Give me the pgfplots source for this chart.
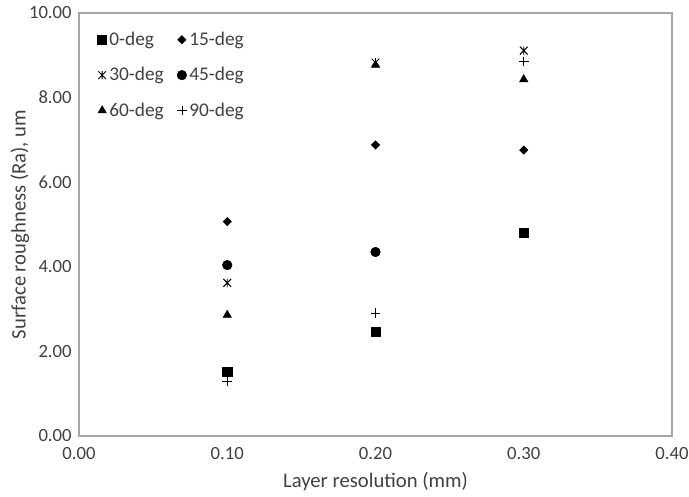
\documentclass[border=0pt]{standalone}
\usepackage{fontspec}
\setmainfont{Carlito}
\usepackage{pgfplots}
\pgfplotsset{compat=1.18}
\definecolor{txt}{HTML}{404040}
\definecolor{frame}{HTML}{A6A6A6}

% X with a vertical bar, like the Excel star marker
\pgfdeclareplotmark{xstar}{%
  \pgfpathmoveto{\pgfqpoint{-.8\pgfplotmarksize}{-.8\pgfplotmarksize}}%
  \pgfpathlineto{\pgfqpoint{.8\pgfplotmarksize}{.8\pgfplotmarksize}}%
  \pgfpathmoveto{\pgfqpoint{-.8\pgfplotmarksize}{.8\pgfplotmarksize}}%
  \pgfpathlineto{\pgfqpoint{.8\pgfplotmarksize}{-.8\pgfplotmarksize}}%
  \pgfpathmoveto{\pgfqpoint{0pt}{.9\pgfplotmarksize}}%
  \pgfpathlineto{\pgfqpoint{0pt}{-.9\pgfplotmarksize}}%
  \pgfusepathqstroke}

\begin{document}
\begin{tikzpicture}
\begin{axis}[
    scale only axis,
    width=444.75pt, height=317.25pt,
    xmin=0, xmax=0.4, ymin=0, ymax=10,
    xtick={0,0.1,0.2,0.3,0.4},
    ytick={0,2,4,6,8,10},
    major tick length=0pt,
    axis line style={frame, line width=1pt},
    tick label style={font=\fontsize{14}{16}\selectfont, text=txt},
    label style={font=\fontsize{15.5}{17}\selectfont, text=txt},
    /pgf/number format/.cd, fixed, fixed zerofill, precision=2, assume math mode=true,
    /pgfplots/.cd,
    scaled x ticks=false,
    xticklabel style={yshift=-5pt},
    yticklabel style={xshift=-2pt},
    xlabel={Layer resolution (mm)},
    ylabel={Surface roughness (Ra), um},
    xlabel style={yshift=-3pt},
    ylabel style={yshift=-7pt},
    legend columns=2,
    legend image code/.code={\draw[#1] plot coordinates {(0.1cm,0cm)};},
    legend style={draw=none, fill=none, at={(0.031,0.962)}, anchor=north west,
      font=\fontsize{14.5}{16}\selectfont, text=txt,
      cells={anchor=west}, row sep=11pt, inner sep=0pt,
      /tikz/column 2/.style={column sep=8pt}},
    every axis plot/.append style={only marks, black},
]
\addplot[mark=square*, mark size=3.4pt] coordinates {(0.1,1.52) (0.2,2.46) (0.3,4.80)};
\addlegendentry{0-deg}
\addplot[mark=square*, mark options={rotate=45}, mark size=2.2pt] coordinates {(0.1,5.07) (0.2,6.88) (0.3,6.76)};
\addlegendentry{15-deg}
\addplot[mark=xstar, mark size=3.6pt, line width=0.7pt] coordinates {(0.1,3.62) (0.2,8.83) (0.3,9.11)};
\addlegendentry{30-deg}
\addplot[mark=*, mark size=3.6pt] coordinates {(0.1,4.04) (0.2,4.35)};
\addlegendentry{45-deg}
\addplot[mark=triangle*, mark size=3.6pt] coordinates {(0.1,2.86) (0.2,8.77) (0.3,8.43)};
\addlegendentry{60-deg}
\addplot[mark=+, mark size=3.6pt, line width=0.6pt] coordinates {(0.1,1.30) (0.2,2.91) (0.3,8.85)};
\addlegendentry{90-deg}
\end{axis}
\pgfresetboundingbox
\path ([shift={(-59.25pt,-45pt)}]current axis.south west) rectangle ([shift={(12.75pt,9.75pt)}]current axis.north east);
\end{tikzpicture}
\end{document}
